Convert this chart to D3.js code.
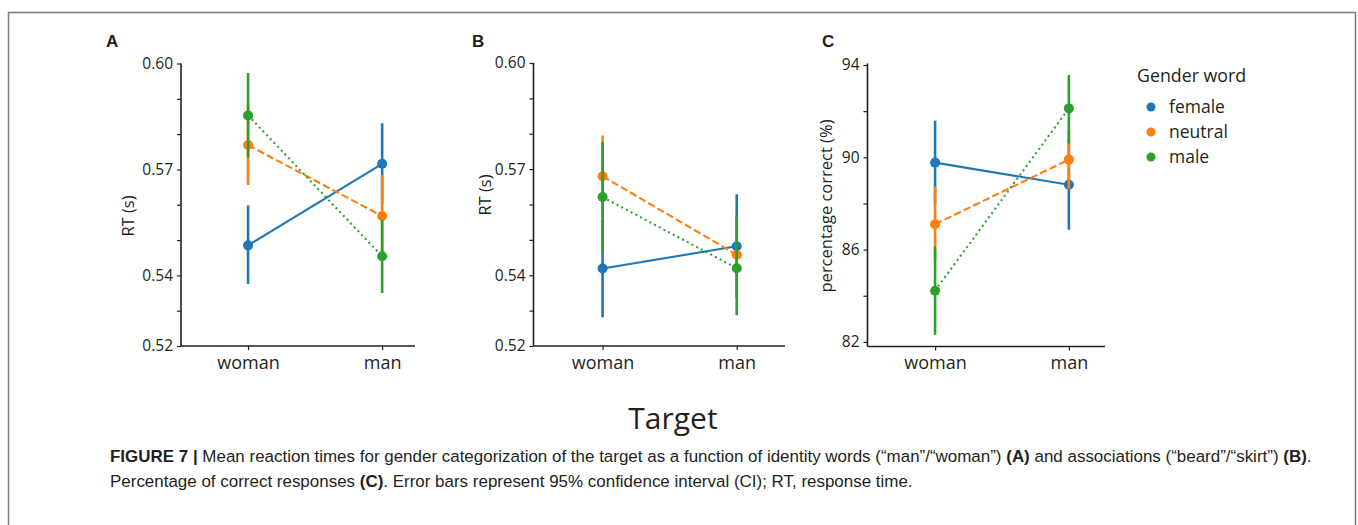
<!DOCTYPE html>
<html lang="en">
<head>
<meta charset="UTF-8">
<script src="https://cdnjs.cloudflare.com/ajax/libs/d3/7.8.5/d3.min.js"></script>
<title>Figure 7</title>
<style>
	body { margin: 0; background: #fff; }
	svg text { fill: #231f20; }
</style>
</head>
<body>
<div id="draw-here"></div>
<script>
/* data */
var categories = ["woman", "man"];
var groups = ["female", "neutral", "male"];
var colors = ["#1f77b4", "#ff7f0e", "#2ca02c"];

/* panel A: RT (s), identity words */
var meanA = [[0.5485, 0.5716], [0.5769, 0.5568], [0.5853, 0.5454]];
var lowA  = [[0.5376, 0.5601], [0.5656, 0.5452], [0.5733, 0.5350]];
var highA = [[0.5598, 0.5831], [0.5882, 0.5684], [0.5973, 0.5558]];

/* panel B: RT (s), associations */
var meanB = [[0.5419, 0.5482], [0.5680, 0.5458], [0.5621, 0.5420]];
var lowB  = [[0.5281, 0.5335], [0.5565, 0.5380], [0.5465, 0.5287]];
var highB = [[0.5557, 0.5629], [0.5795, 0.5536], [0.5777, 0.5568]];

/* panel C: percentage correct */
var meanC = [[89.77, 88.81], [87.10, 89.90], [84.22, 92.12]];
var lowC  = [[87.95, 86.86], [85.60, 88.63], [82.31, 90.60]];
var highC = [[91.59, 90.76], [88.73, 91.19], [86.14, 93.57]];

var rtTicks = [0.52, 0.53, 0.54, 0.55, 0.56, 0.57, 0.58, 0.59, 0.60];
var rtLabels = [0.52, 0.54, 0.57, 0.60];
var pcTicks = [82, 84, 86, 88, 90, 92, 94];
var pcLabels = [82, 86, 90, 94];

var W = 1358, H = 525;
var font = "'Open Sans', sans-serif";
var dashes = [null, "7.4,3.2", "2,3.3"];

var svg = d3.select("#draw-here").append("svg")
	.attr("width", W).attr("height", H)
	.attr("font-family", font);

/* figure frame */
svg.append("path")
	.attr("d", "M8.5," + (H + 2) + "V12.5H1355.5V" + (H + 2))
	.attr("fill", "none").attr("stroke", "#7a7a7a").attr("stroke-width", 1.5);

function drawPanel(p) {
	var g = svg.append("g");
	var x = d3.scaleLinear().domain(p.xdom).range([p.left, p.right]);
	var y = d3.scaleLinear().domain(p.ydom).range([p.bottom, p.top]);

	/* y axis */
	var yAxis = d3.axisLeft(y).tickValues(p.ticks).tickSize(4).tickPadding(4)
		.tickFormat(function(d) {
			var hit = p.labels.some(function(l) { return Math.abs(l - d) < 1e-9; });
			return hit ? p.fmt(d) : "";
		});
	var ya = g.append("g").attr("transform", "translate(" + p.left + ",0)").call(yAxis);
	ya.select(".domain").attr("d", "M0," + p.spineTop + "V" + p.bottom);

	/* x axis */
	var xAxis = d3.axisBottom(x).tickValues([0, 1]).tickSize(4).tickPadding(6)
		.tickFormat(function(d) { return categories[d]; });
	var xa = g.append("g").attr("transform", "translate(0," + p.bottom + ")").call(xAxis);
	xa.select(".domain").attr("d", "M" + p.left + ",0H" + p.right);

	[ya, xa].forEach(function(a) {
		a.attr("font-family", font);
		a.selectAll(".domain").attr("stroke", "#231f20").attr("stroke-width", 1.6);
		a.selectAll(".tick line").attr("stroke", "#231f20").attr("stroke-width", 1.2);
		a.selectAll("text").attr("fill", "#231f20");
	});
	ya.selectAll("text").attr("font-size", 15.5);
	xa.selectAll("text").attr("font-size", 18);

	/* y label */
	g.append("text")
		.attr("transform", "translate(" + p.ylabX + "," + p.ylabY + ") rotate(-90)")
		.attr("text-anchor", "middle").attr("font-size", p.ylabSize)
		.text(p.ylabel);

	/* panel letter */
	g.append("text").attr("x", p.letterX).attr("y", 47)
		.attr("font-family", "'Liberation Sans', Arial, sans-serif")
		.attr("font-weight", "bold").attr("font-size", 17)
		.text(p.letter);

	var line = d3.line().x(function(d, i) { return x(i); }).y(function(d) { return y(d); });

	groups.forEach(function(name, k) {
		var c = colors[k];
		/* error bars */
		categories.forEach(function(cat, i) {
			g.append("line")
				.attr("x1", x(i)).attr("x2", x(i))
				.attr("y1", y(p.low[k][i])).attr("y2", y(p.high[k][i]))
				.attr("stroke", c).attr("stroke-width", 2.6);
		});
		g.append("path").datum(p.mean[k])
			.attr("d", line).attr("fill", "none")
			.attr("stroke", c).attr("stroke-width", 2.1)
			.attr("stroke-dasharray", dashes[k]);
		g.selectAll(null).data(p.mean[k]).enter().append("circle")
			.attr("cx", function(d, i) { return x(i); })
			.attr("cy", function(d) { return y(d); })
			.attr("r", 5).attr("fill", c);
	});
}

var rtFmt = d3.format(".2f");

drawPanel({
	letter: "A", letterX: 106,
	left: 181, right: 415, top: 63.5, bottom: 346, spineTop: 63.5,
	xdom: [-0.5, 1.245], ydom: [0.52, 0.60],
	ticks: rtTicks, labels: rtLabels, fmt: rtFmt,
	mean: meanA, low: lowA, high: highA,
	ylabel: "RT (s)", ylabX: 134, ylabY: 216, ylabSize: 16.5
});

drawPanel({
	letter: "B", letterX: 472,
	left: 533.5, right: 785, top: 63, bottom: 346, spineTop: 63,
	xdom: [-0.515, 1.36], ydom: [0.52, 0.60],
	ticks: rtTicks, labels: rtLabels, fmt: rtFmt,
	mean: meanB, low: lowB, high: highB,
	ylabel: "RT (s)", ylabX: 491, ylabY: 195, ylabSize: 16.5
});

drawPanel({
	letter: "C", letterX: 822,
	left: 867.5, right: 1105, top: 65, bottom: 346.5, spineTop: 63.5,
	xdom: [-0.505, 1.27], ydom: [81.8, 94.0],
	ticks: pcTicks, labels: pcLabels, fmt: d3.format("d"),
	mean: meanC, low: lowC, high: highC,
	ylabel: "percentage correct (%)", ylabX: 832, ylabY: 206, ylabSize: 16.5
});

/* legend */
var legend = svg.append("g");
legend.append("text").attr("x", 1137).attr("y", 82).attr("font-size", 17.8).text("Gender word");
groups.forEach(function(name, k) {
	var yy = 107 + k * 25;
	legend.append("circle").attr("cx", 1151).attr("cy", yy).attr("r", 4.5).attr("fill", colors[k]);
	legend.append("text").attr("x", 1169).attr("y", yy + 6).attr("font-size", 17.5).text(name);
});

/* shared x label */
svg.append("text").attr("x", 673).attr("y", 429).attr("text-anchor", "middle")
	.attr("font-size", 30).text("Target");

/* caption: condensed sans, squeezed horizontally to the text block width */
var capFont = "'Liberation Sans', Arial, sans-serif";
var capSize = 16.5;
var cap1 = svg.append("text").attr("font-family", capFont).attr("font-size", capSize);
cap1.append("tspan").attr("font-weight", "bold").text("FIGURE 7 |");
cap1.append("tspan").text(" Mean reaction times for gender categorization of the target as a function of identity words (\u201cman\u201d/\u201cwoman\u201d) ");
cap1.append("tspan").attr("font-weight", "bold").text("(A)");
cap1.append("tspan").text(" and associations (\u201cbeard\u201d/\u201cskirt\u201d) ");
cap1.append("tspan").attr("font-weight", "bold").text("(B)");
cap1.append("tspan").text(".");

var cap2 = svg.append("text").attr("font-family", capFont).attr("font-size", capSize);
cap2.append("tspan").text("Percentage of correct responses ");
cap2.append("tspan").attr("font-weight", "bold").text("(C)");
cap2.append("tspan").text(". Error bars represent 95% confidence interval (CI); RT, response time.");

var sx = (1313 - 110) / cap1.node().getComputedTextLength();
cap1.attr("transform", "translate(110,462) scale(" + sx + ",1)");
cap2.attr("transform", "translate(110,487) scale(" + sx + ",1)");
</script>
</body>
</html>
